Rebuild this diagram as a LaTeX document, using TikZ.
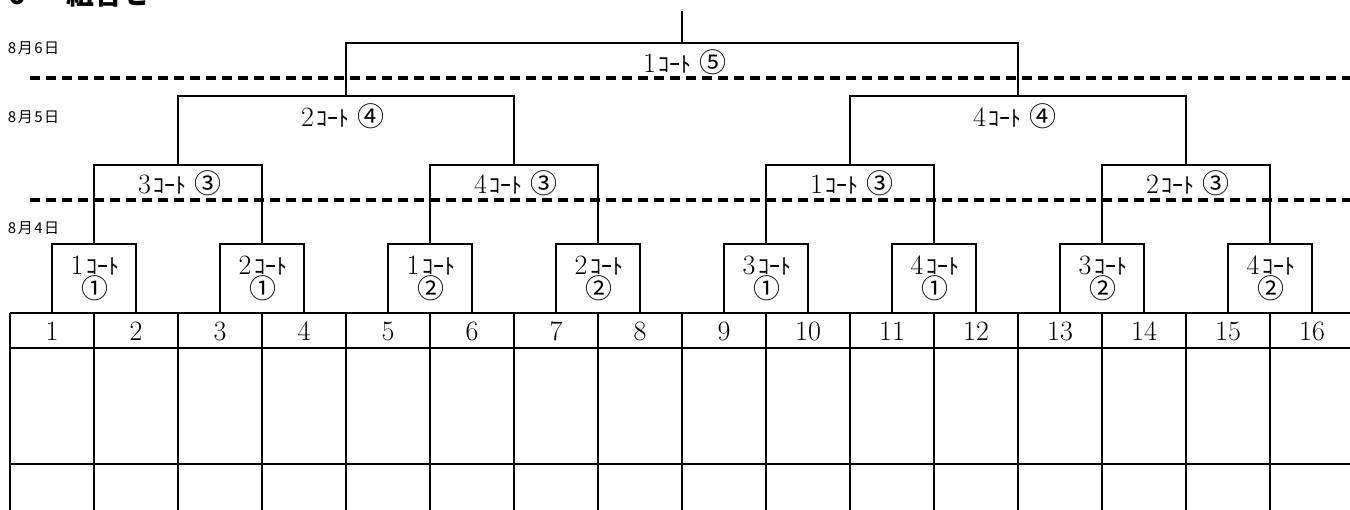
\documentclass[tikz,border=0pt]{standalone}
\usepackage{fontspec}
\newfontfamily\jp{Noto Sans CJK JP}
\begin{document}
\begin{tikzpicture}[x=1pt,y=-1pt,line width=2pt,
  bline/.style={draw=black,line width=2pt},
  dashline/.style={draw=black,line width=3.5pt,dash pattern=on 10pt off 6pt},
  lbl/.style={inner sep=0pt,font=\fontsize{28}{24}\selectfont,align=center},
  datelbl/.style={anchor=west,inner sep=0pt,font=\jp\fontsize{15}{15}\selectfont},
  numlbl/.style={inner sep=0pt,font=\fontsize{28}{28}\selectfont}]
\newcommand\kt{\hspace{3pt}{\jp\fontsize{22}{22}\selectfont ｺｰﾄ}}
\newcommand\cn[1]{{\jp\fontsize{27}{27}\selectfont #1}}
\newcommand\dt[2]{#1\kern1.5pt 月\kern1.5pt #2\kern1.5pt 日}
\useasboundingbox (0,0) rectangle (1350,509);
\clip (0,0) rectangle (1350,509);
% title (cut off at top)
\node[anchor=base west,inner sep=0pt,font=\jp\bfseries\fontsize{28}{28}\selectfont] (title) at (8,4.5) {6\hspace{40pt}組合せ};
% dates
\node[datelbl] (d6) at (7,48) {\dt{8}{6}};
\node[datelbl] (d5) at (7,117) {\dt{8}{5}};
\node[datelbl] (d4) at (7,228) {\dt{8}{4}};
% dashed day separators
\coordinate (s1a) at (30,78); \coordinate (s1b) at (1352,78);
\coordinate (s2a) at (30,200); \coordinate (s2b) at (1352,200);
\draw[dashline] (s1a) -- (s1b);
\draw[dashline] (s2a) -- (s2b);
% table
\foreach \y in {313,348,464} \draw[bline] (10,\y) -- (1352,\y);
\foreach \k in {0,...,15} \draw[bline] ({10+84*\k},313) -- ({10+84*\k},511);
\foreach \k in {1,...,16} \node[numlbl] (n\k) at ({84*\k-32},331) {\k};
% round 1
\foreach \k/\c/\m in {0/1/①,1/2/①,2/1/②,3/2/②,4/3/①,5/4/①,6/3/②,7/4/②}{
  \draw[bline] ({52+168*\k},313) |- ({136+168*\k},244) -- ({136+168*\k},313);
  \node[lbl] (r1-\k) at ({95+168*\k},278) {\c\kt\\[0pt]\cn{\m}};
}
% round 2 (quarterfinal)
\foreach \k/\c in {0/3,1/4,2/1,3/2}{
  \draw[bline] ({94+336*\k},244) |- ({262+336*\k},165) -- ({262+336*\k},244);
  \node[lbl] (r2-\k) at ({180+336*\k},183) {\c\kt\hspace{8pt}\cn{③}};
}
% round 3 (semifinal)
\foreach \k/\c in {0/2,1/4}{
  \draw[bline] ({178+672*\k},165) |- ({514+672*\k},96) -- ({514+672*\k},165);
  \node[lbl] (r3-\k) at ({343+672*\k},116) {\c\kt\hspace{8pt}\cn{④}};
}
% final
\draw[bline] (346,96) |- (1018,43) -- (1018,96);
\coordinate (top) at (682,11);
\draw[bline] (682,43) -- (top);
\node[lbl] (r4) at (685,62) {1\kt\hspace{8pt}\cn{⑤}};
\end{tikzpicture}
\end{document}
